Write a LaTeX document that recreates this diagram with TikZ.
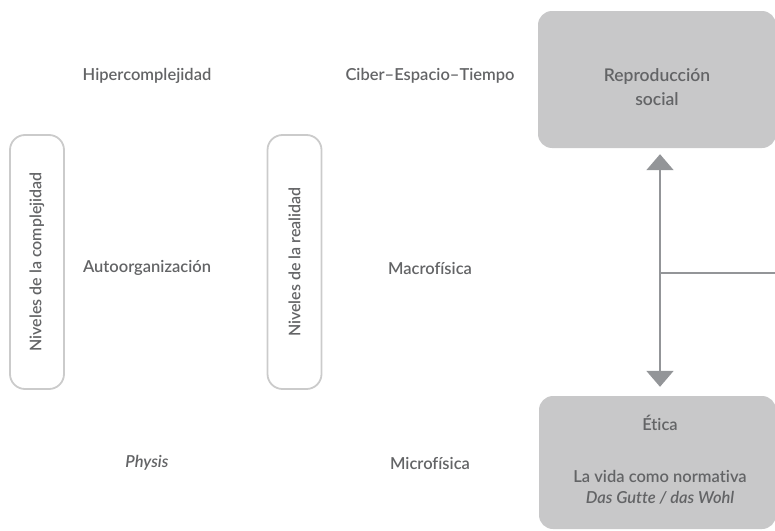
\documentclass[tikz,border=0pt]{standalone}
\usepackage{fontspec}
\setmainfont{Lato}[UprightFont={Lato Semibold},ItalicFont={Lato Semibold Italic},Ligatures=NoCommon]
\usetikzlibrary{arrows.meta}
\definecolor{txt}{HTML}{636466}
\definecolor{boxfill}{HTML}{C8C8C9}
\definecolor{arrc}{HTML}{939598}
\definecolor{framec}{HTML}{CBCBCB}
\begin{document}
\begin{tikzpicture}[x=1pt,y=-1pt,
  lbl/.style={text=txt,font=\fontsize{16.5}{21}\selectfont,inner sep=0pt},
  greybox/.style={fill=boxfill,rounded corners=14pt,inner sep=0pt},
  vframe/.style={draw=framec,line width=1.8pt,rounded corners=15pt,minimum width=254pt,minimum height=54pt,rotate=90,text=txt,font=\fontsize{16}{18}\selectfont},
  conn/.style={draw=arrc,line width=2pt}]
\useasboundingbox (0,0) rectangle (775,530);
% grey boxes
\node[greybox,minimum width=238pt,minimum height=137pt] (repro) at (657,79.5) {};
\node[greybox,minimum width=237pt,minimum height=133pt] (etica) at (657.5,462.5) {};
% vertical frames
\node[vframe] (ncomp) at (37,262) {Niveles de la complejidad};
\node[vframe] (nreal) at (294.5,262) {Niveles de la realidad};
% labels
\node[lbl] (hiper) at (147,76) {Hipercomplejidad};
\node[lbl] (ciber) at (430,76) {Ciber–Espacio–Tiempo};
\node[lbl,align=center,font=\fontsize{17.5}{24}\selectfont] (reprot) at (657,87) {Reproducción\\social};
\node[lbl] (auto) at (147,268) {Autoorganización};
\node[lbl] (macro) at (430,268) {Macrofísica};
\node[lbl] (phys) at (147,463) {\itshape Physis};
\node[lbl] (micro) at (430,463) {Microfísica};
\node[lbl] (etit) at (660,423) {Ética};
\node[lbl,align=center] (vida) at (660,487) {La vida como normativa\\{\itshape Das Gutte / das Wohl}};
% connectors
\coordinate (ax) at (660,0);
\coordinate (hr) at (775,273);
\draw[conn,{Triangle[width=27pt,length=16pt]}-{Triangle[width=27pt,length=16pt]},shorten <=6pt,shorten >=9pt,fill=arrc]
  (repro.south -| ax) -- (etica.north -| ax);
\draw[conn] (ax |- hr) -- (hr);
\end{tikzpicture}
\end{document}
